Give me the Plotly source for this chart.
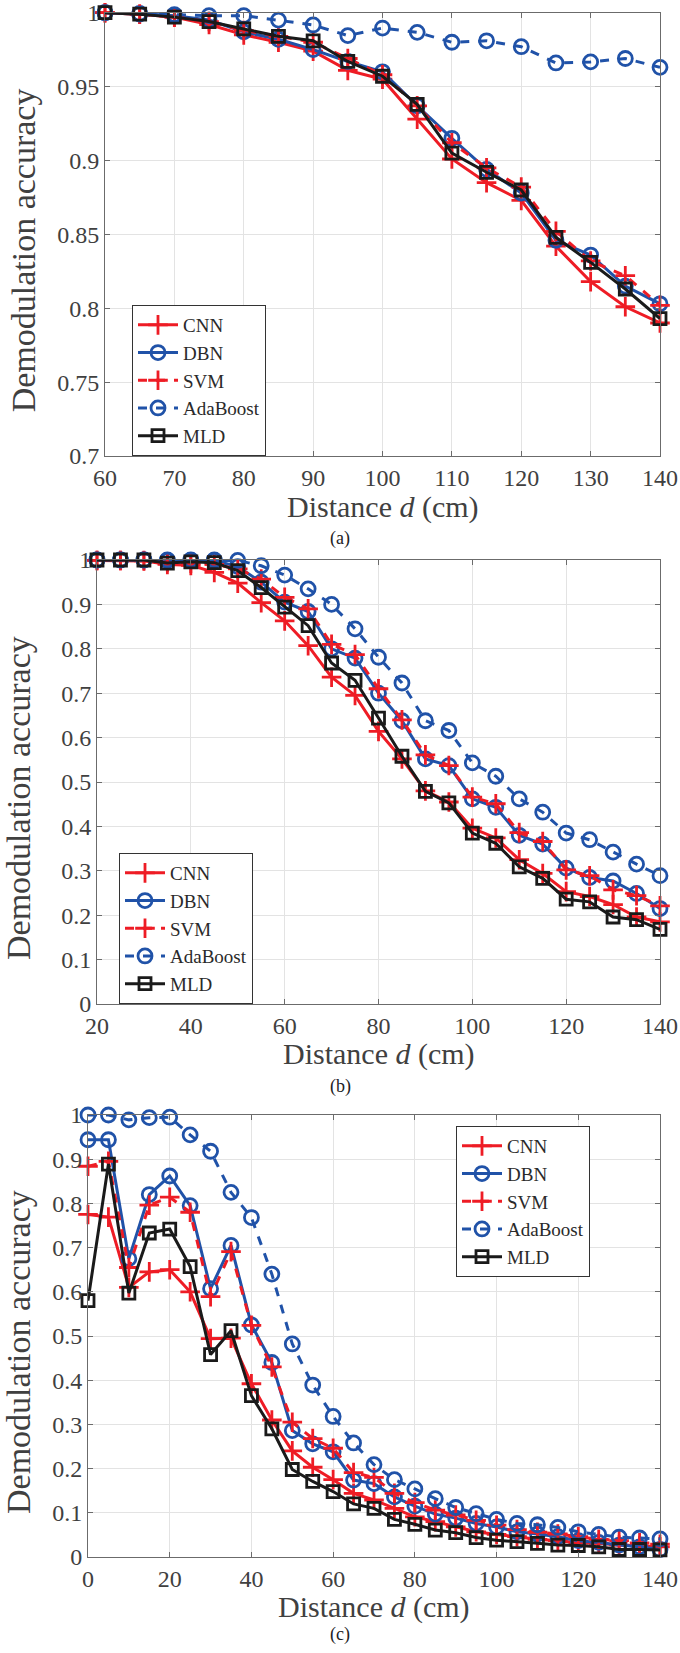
import plotly.graph_objects as go

# ---------------- data ----------------
series_names = ["CNN", "DBN", "SVM", "AdaBoost", "MLD"]

# panel (a)
xa = [60, 65, 70, 75, 80, 85, 90, 95, 100, 105, 110, 115, 120, 125, 130, 135, 140]
a_cnn = [1.0, 0.999, 0.997, 0.992, 0.985, 0.980, 0.974, 0.961, 0.955, 0.928, 0.901, 0.885, 0.873, 0.842, 0.818, 0.801, 0.790]
a_dbn = [1.0, 0.9995, 0.998, 0.995, 0.987, 0.982, 0.975, 0.967, 0.960, 0.937, 0.915, 0.894, 0.878, 0.846, 0.836, 0.815, 0.803]
a_svm = [1.0, 0.999, 0.997, 0.994, 0.988, 0.984, 0.980, 0.969, 0.958, 0.937, 0.912, 0.895, 0.882, 0.852, 0.832, 0.822, 0.802]
a_ada = [1.0, 0.999, 0.9987, 0.998, 0.998, 0.995, 0.9917, 0.9845, 0.9896, 0.9867, 0.980, 0.981, 0.977, 0.966, 0.9667, 0.969, 0.963]
a_mld = [1.0, 0.999, 0.997, 0.994, 0.989, 0.984, 0.981, 0.967, 0.957, 0.938, 0.905, 0.892, 0.880, 0.848, 0.831, 0.813, 0.793]

# panel (b)
xb = [20, 25, 30, 35, 40, 45, 50, 55, 60, 65, 70, 75, 80, 85, 90, 95, 100, 105, 110, 115, 120, 125, 130, 135, 140]
b_cnn = [0.999, 0.999, 0.998, 0.990, 0.988, 0.972, 0.948, 0.904, 0.863, 0.807, 0.736, 0.695, 0.614, 0.552, 0.480, 0.455, 0.396, 0.374, 0.325, 0.294, 0.253, 0.242, 0.224, 0.196, 0.185]
b_dbn = [1.0, 1.0, 1.0, 0.999, 0.999, 0.999, 0.985, 0.950, 0.905, 0.884, 0.800, 0.779, 0.700, 0.638, 0.552, 0.537, 0.462, 0.443, 0.380, 0.360, 0.306, 0.285, 0.277, 0.249, 0.215]
b_svm = [0.999, 0.999, 0.999, 0.995, 0.993, 0.990, 0.980, 0.957, 0.916, 0.890, 0.810, 0.787, 0.710, 0.640, 0.561, 0.537, 0.466, 0.451, 0.386, 0.366, 0.302, 0.289, 0.257, 0.244, 0.221]
b_ada = [1.0, 1.0, 1.0, 1.0, 1.0, 1.0, 0.999, 0.987, 0.966, 0.935, 0.900, 0.845, 0.781, 0.723, 0.638, 0.616, 0.543, 0.513, 0.462, 0.432, 0.385, 0.370, 0.342, 0.315, 0.289]
b_mld = [1.0, 1.0, 1.0, 0.993, 0.996, 0.994, 0.976, 0.938, 0.894, 0.852, 0.768, 0.729, 0.644, 0.558, 0.479, 0.453, 0.385, 0.362, 0.309, 0.283, 0.236, 0.230, 0.196, 0.190, 0.168]

# panel (c)
xc = [0, 5, 10, 15, 20, 25, 30, 35, 40, 45, 50, 55, 60, 65, 70, 75, 80, 85, 90, 95, 100, 105, 110, 115, 120, 125, 130, 135, 140]
c_cnn = [0.775, 0.769, 0.610, 0.645, 0.650, 0.600, 0.494, 0.495, 0.392, 0.310, 0.240, 0.203, 0.175, 0.144, 0.129, 0.110, 0.091, 0.080, 0.068, 0.057, 0.051, 0.046, 0.040, 0.037, 0.032, 0.031, 0.027, 0.025, 0.023]
c_dbn = [0.944, 0.944, 0.675, 0.820, 0.862, 0.795, 0.607, 0.705, 0.525, 0.440, 0.286, 0.256, 0.238, 0.174, 0.166, 0.136, 0.115, 0.097, 0.088, 0.076, 0.068, 0.057, 0.052, 0.046, 0.037, 0.033, 0.027, 0.023, 0.017]
c_svm = [0.884, 0.895, 0.655, 0.796, 0.814, 0.780, 0.589, 0.691, 0.524, 0.430, 0.305, 0.268, 0.246, 0.191, 0.180, 0.144, 0.123, 0.106, 0.095, 0.083, 0.072, 0.062, 0.056, 0.052, 0.046, 0.040, 0.037, 0.032, 0.029]
c_ada = [1.0, 1.0, 0.989, 0.994, 0.995, 0.955, 0.918, 0.825, 0.768, 0.640, 0.482, 0.389, 0.318, 0.258, 0.209, 0.175, 0.154, 0.132, 0.112, 0.098, 0.085, 0.076, 0.073, 0.067, 0.057, 0.051, 0.045, 0.043, 0.041]
c_mld = [0.580, 0.889, 0.597, 0.733, 0.742, 0.657, 0.458, 0.512, 0.365, 0.290, 0.198, 0.171, 0.148, 0.120, 0.110, 0.085, 0.074, 0.061, 0.055, 0.044, 0.038, 0.035, 0.031, 0.027, 0.026, 0.023, 0.017, 0.017, 0.016]

# ticks
a_xticks = [60, 70, 80, 90, 100, 110, 120, 130, 140]
a_yticks = [0.7, 0.75, 0.8, 0.85, 0.9, 0.95, 1.0]
a_ylabels = ["0.7", "0.75", "0.8", "0.85", "0.9", "0.95", "1"]
b_xticks = [20, 40, 60, 80, 100, 120, 140]
c_xticks = [0, 20, 40, 60, 80, 100, 120, 140]
bc_yticks = [0, 0.1, 0.2, 0.3, 0.4, 0.5, 0.6, 0.7, 0.8, 0.9, 1.0]
bc_ylabels = ["0", "0.1", "0.2", "0.3", "0.4", "0.5", "0.6", "0.7", "0.8", "0.9", "1"]
panel_labels = ["(a)", "(b)", "(c)"]
x_title = "Distance <i>d</i> (cm)"
y_title = "Demodulation accuracy"

# ---------------- styling ----------------
W, H = 680, 1653
RED = "#ee1c25"
BLUE = "#2052a8"
BLACK = "#1a1a1a"
FONT = "Liberation Serif"
TXT = "#404040"

styles = {
    "CNN": dict(color=RED, dash="solid", symbol="cross-thin-open"),
    "DBN": dict(color=BLUE, dash="solid", symbol="circle-open"),
    "SVM": dict(color=RED, dash="dash", symbol="cross-thin-open"),
    "AdaBoost": dict(color=BLUE, dash="dash", symbol="circle-open"),
    "MLD": dict(color=BLACK, dash="solid", symbol="square-open"),
}

def px_x(p):
    return p / W

def px_y(p):
    return 1 - p / H

boxes = [(105, 660, 12.7, 456), (97, 660, 560, 1004), (88, 660, 1115, 1557)]

fig = go.Figure()

panels = [
    (xa, [a_cnn, a_dbn, a_svm, a_ada, a_mld], "legend"),
    (xb, [b_cnn, b_dbn, b_svm, b_ada, b_mld], "legend2"),
    (xc, [c_cnn, c_dbn, c_svm, c_ada, c_mld], "legend3"),
]

for i, (xs, ys_list, leg) in enumerate(panels):
    xaxis = "x" if i == 0 else f"x{i+1}"
    yaxis = "y" if i == 0 else f"y{i+1}"
    for name, ys in zip(series_names, ys_list):
        st = styles[name]
        msize = 12 if "square" in st["symbol"] else 14
        fig.add_trace(go.Scatter(
            x=xs, y=ys, name=name, mode="lines+markers",
            xaxis=xaxis, yaxis=yaxis, legend=leg,
            line=dict(color=st["color"], width=3, dash=st["dash"]),
            marker=dict(symbol=st["symbol"], size=msize, color=st["color"],
                        line=dict(color=st["color"], width=2.8)),
            cliponaxis=False,
        ))

axis_common = dict(
    showline=True, linecolor="#6b6b6b", linewidth=1, mirror="ticks",
    ticks="inside", ticklen=5, tickcolor="#6b6b6b",
    showgrid=True, gridcolor="#e3e3e3", gridwidth=1,
    zeroline=False, automargin=False,
    tickfont=dict(family=FONT, size=24, color=TXT),
)

xticks_all = [a_xticks, b_xticks, c_xticks]
xranges = [[60, 140], [20, 140], [0, 140]]
yticks_all = [(a_yticks, a_ylabels), (bc_yticks, bc_ylabels), (bc_yticks, bc_ylabels)]
yranges = [[0.7, 1.0], [0, 1], [0, 1]]

layout_axes = {}
for i, (l, r, t, b) in enumerate(boxes):
    xk = "xaxis" if i == 0 else f"xaxis{i+1}"
    yk = "yaxis" if i == 0 else f"yaxis{i+1}"
    yanchor = "y" if i == 0 else f"y{i+1}"
    xanchor = "x" if i == 0 else f"x{i+1}"
    layout_axes[xk] = dict(axis_common, domain=[px_x(l), px_x(r)], range=xranges[i],
                           tickvals=xticks_all[i], anchor=yanchor)
    layout_axes[yk] = dict(axis_common, domain=[px_y(b), px_y(t)], range=yranges[i],
                           tickvals=yticks_all[i][0], ticktext=yticks_all[i][1],
                           anchor=xanchor)

fig.update_layout(**layout_axes)

annotations = []
xtitle_y = [507, 1054, 1607]
ytitle_x = [23, 18, 18]
label_y = [538, 1086, 1634]
for i, (l, r, t, b) in enumerate(boxes):
    annotations.append(dict(text=x_title, x=px_x((l + r) / 2), y=px_y(xtitle_y[i]),
                            xref="paper", yref="paper", showarrow=False,
                            xanchor="center", yanchor="middle",
                            font=dict(family=FONT, size=30, color=TXT)))
    annotations.append(dict(text=y_title, x=px_x(ytitle_x[i]), y=px_y((t + b) / 2 + 16),
                            xref="paper", yref="paper", showarrow=False, textangle=-90,
                            xanchor="center", yanchor="middle",
                            font=dict(family=FONT, size=34, color=TXT)))
    annotations.append(dict(text=panel_labels[i], x=px_x(340), y=px_y(label_y[i]),
                            xref="paper", yref="paper", showarrow=False,
                            xanchor="center", yanchor="middle",
                            font=dict(family=FONT, size=18, color="#222222")))

legend_common = dict(
    bgcolor="white", bordercolor="#333333", borderwidth=1,
    font=dict(family=FONT, size=19, color="#2a2a2a"),
    xanchor="left", yanchor="top", tracegroupgap=0,
    itemwidth=40,
)

fig.update_layout(
    width=W, height=H,
    margin=dict(l=0, r=0, t=0, b=0, autoexpand=False),
    paper_bgcolor="white", plot_bgcolor="white",
    showlegend=True,
    legend=dict(legend_common, x=px_x(132), y=px_y(305)),
    legend2=dict(legend_common, x=px_x(119), y=px_y(853)),
    legend3=dict(legend_common, x=px_x(456), y=px_y(1126)),
    annotations=annotations,
)

fig.write_html(
    "out.html",
    config={"displayModeBar": False},
    post_script="document.body.style.margin='0px';document.body.style.overflow='hidden';",
)
